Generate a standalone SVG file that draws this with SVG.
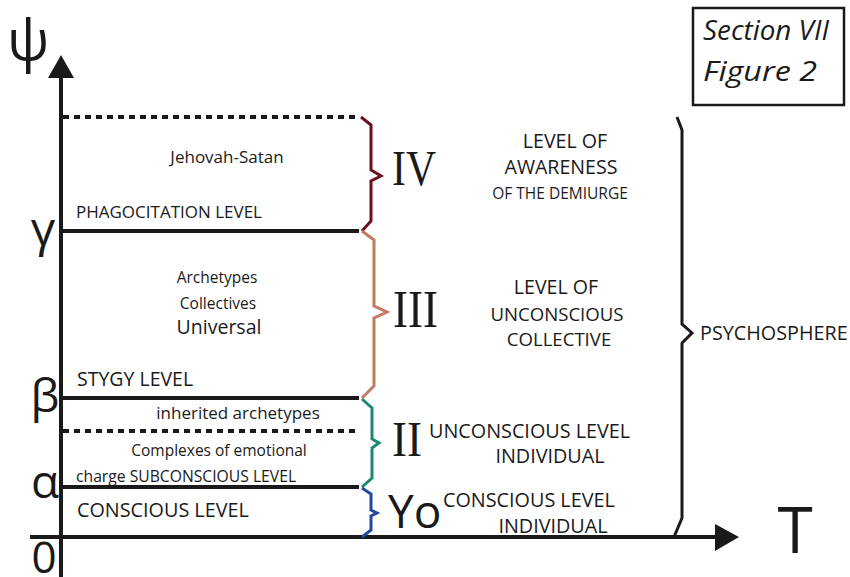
<svg xmlns="http://www.w3.org/2000/svg" width="850" height="577" viewBox="0 0 850 577">
<defs>
<style>
text{font-family:"Open Sans","Noto Sans","DejaVu Sans",sans-serif;fill:#1a1a1a}
.axis{stroke:#1a1a1a;stroke-width:4;fill:none}
.lvl{stroke:#1a1a1a;stroke-width:4;fill:none}
.dot{stroke:#1a1a1a;stroke-width:4;fill:none;stroke-dasharray:6,5}
.br{fill:none;stroke-width:3;stroke-linejoin:miter}
.rom{font-family:"Liberation Serif","Times New Roman",serif}
.c{text-anchor:middle}
.sym{font-family:"Open Sans","DejaVu Sans",sans-serif;text-anchor:middle}
</style>
</defs>
<g id="axes">
<line class="axis" x1="61" y1="577" x2="61" y2="76"/>
<polygon points="61,55 48,78 74,78" fill="#1a1a1a"/>
<line class="axis" x1="30" y1="537" x2="717" y2="537"/>
<polygon points="739,537 715,524 715,551" fill="#1a1a1a"/>
</g>
<g id="levels">
<line class="dot" x1="63" y1="117" x2="358" y2="117"/>
<line class="lvl" x1="61" y1="231" x2="359" y2="231"/>
<line class="lvl" x1="61" y1="398" x2="359" y2="398"/>
<line class="dot" x1="63" y1="431" x2="358" y2="431"/>
<line class="lvl" x1="61" y1="487" x2="359" y2="487"/>
</g>
<g id="connectors">
<polyline class="br" stroke="#6b1020" points="361,117 371,125 371,170 381,176 371,181 371,221 362,231"/>
<polyline class="br" stroke="#c27b62" points="362,231 374,240 374,306 387,312 374,318 374,386 362,398"/>
<polyline class="br" stroke="#1d8a6f" points="362,399 372,408 372,439 379,443 372,448 372,478 362,487"/>
<polyline class="br" stroke="#2348a2" points="362,488 371,494 371,510 377,513 371,516 371,530 362,537"/>
<polyline class="br" stroke="#1a1a1a" stroke-width="4" points="677,117 682,130 682,324 692,333 682,343 682,518 674,537"/>
</g>
<g id="axis-labels">
<text class="sym" x="28" y="60" font-size="56">ψ</text>
<text class="sym" x="43" y="246" font-size="48">γ</text>
<text class="sym" x="45" y="412" font-size="46">β</text>
<text class="sym" x="45" y="498" font-size="46">α</text>
<text class="sym" x="44" y="573" font-size="44">0</text>
<text class="sym" x="795" y="553" font-size="64">T</text>
</g>
<g id="title">
<rect x="693" y="8" width="151" height="97" fill="none" stroke="#1a1a1a" stroke-width="2.5"/>
<text x="703" y="40" font-size="27" font-style="italic" textLength="126" lengthAdjust="spacingAndGlyphs">Section VII</text>
<text x="703" y="81" font-size="27" font-style="italic" textLength="114" lengthAdjust="spacingAndGlyphs">Figure 2</text>
</g>
<g id="level-IV">
<text class="c" x="227" y="163" font-size="17">Jehovah-Satan</text>
<text x="76" y="218" font-size="17">PHAGOCITATION LEVEL</text>
<text class="rom" x="392" y="185" font-size="50" textLength="44" lengthAdjust="spacingAndGlyphs">IV</text>
<text class="c" x="565" y="148" font-size="19.6">LEVEL OF</text>
<text class="c" x="561" y="174" font-size="19.6">AWARENESS</text>
<text class="c" x="560" y="199" font-size="15.5">OF THE DEMIURGE</text>
</g>
<g id="level-III">
<text class="c" x="217" y="283" font-size="15.5">Archetypes</text>
<text class="c" x="218" y="309" font-size="15.5">Collectives</text>
<text class="c" x="219" y="334" font-size="19.5">Universal</text>
<text x="77" y="386" font-size="19.5">STYGY LEVEL</text>
<text class="rom" x="393" y="327" font-size="52" textLength="45" lengthAdjust="spacingAndGlyphs">III</text>
<text class="c" x="556" y="294" font-size="19.6">LEVEL OF</text>
<text class="c" x="557" y="321" font-size="18.6">UNCONSCIOUS</text>
<text class="c" x="559" y="346" font-size="18.6">COLLECTIVE</text>
</g>
<g id="level-II">
<text class="c" x="238" y="419" font-size="17">inherited archetypes</text>
<text class="c" x="219" y="456" font-size="15.5">Complexes of emotional</text>
<text x="76" y="482" font-size="15.7">charge SUBCONSCIOUS LEVEL</text>
<text class="rom" x="392" y="456" font-size="50" textLength="30" lengthAdjust="spacingAndGlyphs">II</text>
<text x="429" y="438" font-size="19.8">UNCONSCIOUS LEVEL</text>
<text class="c" x="550" y="463" font-size="19.8">INDIVIDUAL</text>
</g>
<g id="level-Yo">
<text x="77" y="517" font-size="19.8">CONSCIOUS LEVEL</text>
<text x="388" y="528" font-size="46">Yo</text>
<text x="443" y="507" font-size="19.8">CONSCIOUS LEVEL</text>
<text class="c" x="553" y="533" font-size="19.8">INDIVIDUAL</text>
</g>
<g id="psychosphere">
<text x="700" y="340" font-size="19.8">PSYCHOSPHERE</text>
</g>
</svg>
